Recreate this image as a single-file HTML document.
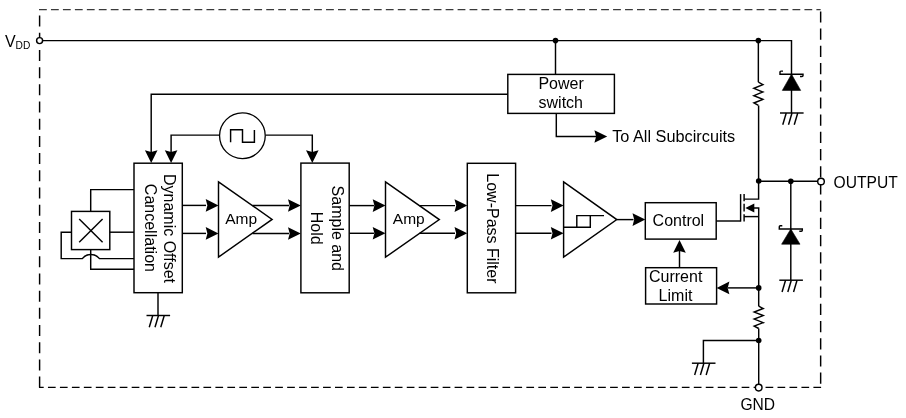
<!DOCTYPE html>
<html><head><meta charset="utf-8"><style>
html,body{margin:0;padding:0;background:#fff;width:906px;height:418px;overflow:hidden}
svg{display:block;will-change:transform}
text{font-family:"Liberation Sans",sans-serif;fill:#000;stroke:none}
</style></head><body>
<svg width="906" height="418" viewBox="0 0 906 418" stroke="#000" fill="none" stroke-linecap="butt">
<path d="M39.00,9.6 H46.80 M50.96,9.6 H58.76 M62.92,9.6 H70.72 M74.88,9.6 H82.68 M86.84,9.6 H94.64 M98.80,9.6 H106.60 M110.76,9.6 H118.56 M122.72,9.6 H130.52 M134.68,9.6 H142.48 M146.64,9.6 H154.44 M158.60,9.6 H166.40 M170.56,9.6 H178.36 M182.52,9.6 H190.32 M194.48,9.6 H202.28 M206.44,9.6 H214.24 M218.40,9.6 H226.20 M230.36,9.6 H238.16 M242.32,9.6 H250.12 M254.28,9.6 H262.08 M266.24,9.6 H274.04 M278.20,9.6 H286.00 M290.16,9.6 H297.96 M302.12,9.6 H309.92 M314.08,9.6 H321.88 M326.04,9.6 H333.84 M338.00,9.6 H345.80 M349.96,9.6 H357.76 M361.92,9.6 H369.72 M373.88,9.6 H381.68 M385.84,9.6 H393.64 M397.80,9.6 H405.60 M409.76,9.6 H417.56 M421.72,9.6 H429.52 M433.68,9.6 H441.48 M445.64,9.6 H453.44 M457.60,9.6 H465.40 M469.56,9.6 H477.36 M481.52,9.6 H489.32 M493.48,9.6 H501.28 M505.44,9.6 H513.24 M517.40,9.6 H525.20 M529.36,9.6 H537.16 M541.32,9.6 H549.12 M553.28,9.6 H561.08 M565.24,9.6 H573.04 M577.20,9.6 H585.00 M589.16,9.6 H596.96 M601.12,9.6 H608.92 M613.08,9.6 H620.88 M625.04,9.6 H632.84 M637.00,9.6 H644.80 M648.96,9.6 H656.76 M660.92,9.6 H668.72 M672.88,9.6 H680.68 M684.84,9.6 H692.64 M696.80,9.6 H704.60 M708.76,9.6 H716.56 M720.72,9.6 H728.52 M732.68,9.6 H740.48 M744.64,9.6 H752.44 M756.60,9.6 H764.40 M768.56,9.6 H776.36 M780.52,9.6 H788.32 M792.48,9.6 H800.28 M804.44,9.6 H812.24 M816.40,9.6 H820.65 " stroke="#3a3a3a" stroke-width="1.4"/>
<path d="M39.00,387.35 H43.70 M47.96,387.35 H55.66 M59.92,387.35 H67.62 M71.88,387.35 H79.58 M83.84,387.35 H91.54 M95.80,387.35 H103.50 M107.76,387.35 H115.46 M119.72,387.35 H127.42 M131.68,387.35 H139.38 M143.64,387.35 H151.34 M155.60,387.35 H163.30 M167.56,387.35 H175.26 M179.52,387.35 H187.22 M191.48,387.35 H199.18 M203.44,387.35 H211.14 M215.40,387.35 H223.10 M227.36,387.35 H235.06 M239.32,387.35 H247.02 M251.28,387.35 H258.98 M263.24,387.35 H270.94 M275.20,387.35 H282.90 M287.16,387.35 H294.86 M299.12,387.35 H306.82 M311.08,387.35 H318.78 M323.04,387.35 H330.74 M335.00,387.35 H342.70 M346.96,387.35 H354.66 M358.92,387.35 H366.62 M370.88,387.35 H378.58 M382.84,387.35 H390.54 M394.80,387.35 H402.50 M406.76,387.35 H414.46 M418.72,387.35 H426.42 M430.68,387.35 H438.38 M442.64,387.35 H450.34 M454.60,387.35 H462.30 M466.56,387.35 H474.26 M478.52,387.35 H486.22 M490.48,387.35 H498.18 M502.44,387.35 H510.14 M514.40,387.35 H522.10 M526.36,387.35 H534.06 M538.32,387.35 H546.02 M550.28,387.35 H557.98 M562.24,387.35 H569.94 M574.20,387.35 H581.90 M586.16,387.35 H593.86 M598.12,387.35 H605.82 M610.08,387.35 H617.78 M622.04,387.35 H629.74 M634.00,387.35 H641.70 M645.96,387.35 H653.66 M657.92,387.35 H665.62 M669.88,387.35 H677.58 M681.84,387.35 H689.54 M693.80,387.35 H701.50 M705.76,387.35 H713.46 M717.72,387.35 H725.42 M729.68,387.35 H737.38 M741.64,387.35 H749.34 M753.60,387.35 H761.30 M765.56,387.35 H773.26 M777.52,387.35 H785.22 M789.48,387.35 H797.18 M801.44,387.35 H809.14 M813.40,387.35 H821.10 " stroke="#000" stroke-width="1.45"/>
<path d="M39.6,15.60 V26.60 M39.6,32.79 V43.79 M39.6,49.98 V60.98 M39.6,67.17 V78.17 M39.6,84.36 V95.36 M39.6,101.55 V112.55 M39.6,118.74 V129.74 M39.6,135.93 V146.93 M39.6,153.12 V164.12 M39.6,170.31 V181.31 M39.6,187.50 V198.50 M39.6,204.69 V215.69 M39.6,221.88 V232.88 M39.6,239.07 V250.07 M39.6,256.26 V267.26 M39.6,273.45 V284.45 M39.6,290.64 V301.64 M39.6,307.83 V318.83 M39.6,325.02 V336.02 M39.6,342.21 V353.21 M39.6,359.40 V370.40 M39.6,376.59 V387.59 " stroke-width="1.45" fill="none"/>
<path d="M820.65,11.40 V22.60 M820.65,28.60 V39.80 M820.65,45.80 V57.00 M820.65,63.00 V74.20 M820.65,80.20 V91.40 M820.65,97.40 V108.60 M820.65,114.60 V125.80 M820.65,131.80 V143.00 M820.65,149.00 V160.20 M820.65,166.20 V177.40 M820.65,183.40 V194.60 M820.65,200.60 V211.80 M820.65,217.80 V229.00 M820.65,235.00 V246.20 M820.65,252.20 V263.40 M820.65,269.40 V280.60 M820.65,286.60 V297.80 M820.65,303.80 V315.00 M820.65,321.00 V332.20 M820.65,338.20 V349.40 M820.65,355.40 V366.60 M820.65,372.60 V383.80 " stroke-width="1.45" fill="none"/>
<path d="M42.6,40.6 H791.5 V74.3" stroke-width="1.45" fill="none"/>
<circle cx="555.5" cy="40.6" r="2.8" fill="#000" stroke="none"/>
<circle cx="758.35" cy="40.6" r="2.8" fill="#000" stroke="none"/>
<circle cx="39.6" cy="40.6" r="3.0" fill="#fff" stroke-width="1.45"/>
<text x="5" y="46.5" font-size="16" text-anchor="start" >V</text>
<text x="15.6" y="48.7" font-size="10.2" text-anchor="start" >DD</text>
<path d="M555.5,40.6 L555.5,74.4" stroke-width="1.45"/>
<rect x="507.8" y="74.4" width="106.60" height="39.00" stroke-width="1.45" fill="white"/>
<text x="561.1" y="89.0" font-size="16" text-anchor="middle" >Power</text>
<text x="560.8" y="107.8" font-size="16" text-anchor="middle" >switch</text>
<path d="M507.8,94.3 H151.2 V152" stroke-width="1.45" fill="none"/>
<path d="M151.20,163.00 L144.90,150.20 L151.20,151.90 L157.50,150.20 Z" fill="#000" stroke="none"/>
<path d="M556.3,113.4 V136.5 H596" stroke-width="1.45" fill="none"/>
<path d="M607.20,136.50 L594.40,130.20 L596.10,136.50 L594.40,142.80 Z" fill="#000" stroke="none"/>
<text x="612.2" y="141.9" font-size="16.3" text-anchor="start" >To All Subcircuits</text>
<circle cx="242.4" cy="135.75" r="22.85" fill="none" stroke-width="1.3"/>
<path d="M219.3,135.1 H171.1 V152" stroke-width="1.45" fill="none"/>
<path d="M171.10,163.00 L164.80,150.20 L171.10,151.90 L177.40,150.20 Z" fill="#000" stroke="none"/>
<path d="M265.5,135.1 H312.3 V152" stroke-width="1.45" fill="none"/>
<path d="M312.30,163.00 L306.00,150.20 L312.30,151.90 L318.60,150.20 Z" fill="#000" stroke="none"/>
<path d="M230.6,142.2 V129.7 H242.5 V142.2 H254.4 V130.1" stroke-width="1.45" fill="none"/>
<rect x="134.0" y="163.2" width="48.30" height="129.50" stroke-width="1.45" fill="white"/>
<text transform="translate(163.6,228.5) rotate(90)" x="0" y="0" font-size="16" text-anchor="middle">Dynamic Offset</text>
<text transform="translate(145.2,227.9) rotate(90)" x="0" y="0" font-size="16" text-anchor="middle">Cancellation</text>
<path d="M158,292.7 L158,315.5" stroke-width="1.45"/>
<path d="M146.5,315.5 L170.10000000000002,315.5" stroke-width="1.45"/>
<path d="M152.75,315.5 L149.25,327.3" stroke-width="1.45"/>
<path d="M158.5,315.5 L155.0,327.3" stroke-width="1.45"/>
<path d="M164.25,315.5 L160.75,327.3" stroke-width="1.45"/>
<rect x="71.5" y="211.4" width="38.30" height="38.20" stroke-width="1.45" fill="white"/>
<path d="M79.2,219 L102.6,242.2" stroke-width="1.45"/>
<path d="M102.6,219 L79.2,242.2" stroke-width="1.45"/>
<path d="M90.7,211.4 V189.6 H134" stroke-width="1.45" fill="none"/>
<path d="M109.8,232.2 H134" stroke-width="1.45" fill="none"/>
<path d="M71.5,232.2 H61.2 V258.6 H82.3 C86.5,253.0 95.0,253.0 99.5,258.6 H134" stroke-width="1.45" fill="none"/>
<path d="M90.7,249.6 V269.2 H134" stroke-width="1.45" fill="none"/>
<path d="M218.5,181.8 L272.1,219.4 L218.5,257.1 Z" stroke-width="1.45" fill="none"/>
<text x="225.2" y="223.7" font-size="15.5" text-anchor="start" >Amp</text>
<path d="M182.3,205.4 L206,205.4" stroke-width="1.45"/>
<path d="M218.50,205.40 L205.70,199.10 L207.40,205.40 L205.70,211.70 Z" fill="#000" stroke="none"/>
<path d="M182.3,233.4 L206,233.4" stroke-width="1.45"/>
<path d="M218.50,233.40 L205.70,227.10 L207.40,233.40 L205.70,239.70 Z" fill="#000" stroke="none"/>
<path d="M252.5,205.5 L289,205.5" stroke-width="1.45"/>
<path d="M300.80,205.50 L288.00,199.20 L289.70,205.50 L288.00,211.80 Z" fill="#000" stroke="none"/>
<path d="M252.5,233.5 L289,233.5" stroke-width="1.45"/>
<path d="M300.80,233.50 L288.00,227.20 L289.70,233.50 L288.00,239.80 Z" fill="#000" stroke="none"/>
<rect x="300.9" y="163.1" width="48.30" height="129.70" stroke-width="1.45" fill="white"/>
<text transform="translate(331.5,228.3) rotate(90)" x="0" y="0" font-size="16" text-anchor="middle">Sample and</text>
<text transform="translate(310.8,228.2) rotate(90)" x="0" y="0" font-size="16" text-anchor="middle">Hold</text>
<path d="M349.4,205.6 L374,205.6" stroke-width="1.45"/>
<path d="M385.50,205.60 L372.70,199.30 L374.40,205.60 L372.70,211.90 Z" fill="#000" stroke="none"/>
<path d="M349.4,233.3 L374,233.3" stroke-width="1.45"/>
<path d="M385.50,233.30 L372.70,227.00 L374.40,233.30 L372.70,239.60 Z" fill="#000" stroke="none"/>
<path d="M385.5,181.9 L439.3,219.6 L385.5,257.2 Z" stroke-width="1.45" fill="none"/>
<text x="392.8" y="223.7" font-size="15.5" text-anchor="start" >Amp</text>
<path d="M419.5,205.6 L455,205.6" stroke-width="1.45"/>
<path d="M467.30,205.60 L454.50,199.30 L456.20,205.60 L454.50,211.90 Z" fill="#000" stroke="none"/>
<path d="M419.5,233.3 L455,233.3" stroke-width="1.45"/>
<path d="M467.30,233.30 L454.50,227.00 L456.20,233.30 L454.50,239.60 Z" fill="#000" stroke="none"/>
<rect x="467.3" y="163.3" width="48.30" height="129.50" stroke-width="1.45" fill="white"/>
<text transform="translate(486.8,228.4) rotate(90)" x="0" y="0" font-size="16" text-anchor="middle">Low-Pass Filter</text>
<path d="M515.6,205.6 L551.5,205.6" stroke-width="1.45"/>
<path d="M563.60,205.60 L550.80,199.30 L552.50,205.60 L550.80,211.90 Z" fill="#000" stroke="none"/>
<path d="M515.6,233.2 L551.5,233.2" stroke-width="1.45"/>
<path d="M563.60,233.20 L550.80,226.90 L552.50,233.20 L550.80,239.50 Z" fill="#000" stroke="none"/>
<path d="M563.6,181.8 L616.8,219.6 L563.6,257.1 Z" stroke-width="1.45" fill="none"/>
<path d="M563.8,227.2 H590.3 V215.6 M576.8,227.2 V215.6 H604" stroke-width="1.45" fill="none"/>
<path d="M616.8,219.6 L633.5,219.6" stroke-width="1.45"/>
<path d="M645.30,219.60 L632.50,213.30 L634.20,219.60 L632.50,225.90 Z" fill="#000" stroke="none"/>
<rect x="645.3" y="202.7" width="70.90" height="36.40" stroke-width="1.45" fill="white"/>
<text x="652.6" y="225.8" font-size="16" text-anchor="start" >Control</text>
<path d="M716.2,221 L740.6,221" stroke-width="1.45"/>
<rect x="645.6" y="267.7" width="71.00" height="36.30" stroke-width="1.45" fill="white"/>
<text x="649.0" y="281.7" font-size="16" text-anchor="start" >Current</text>
<text x="658.6" y="300.8" font-size="16" text-anchor="start" >Limit</text>
<path d="M679.5,267.7 L679.5,251" stroke-width="1.45"/>
<path d="M679.50,239.90 L673.20,252.70 L679.50,251.00 L685.80,252.70 Z" fill="#000" stroke="none"/>
<path d="M758.7,287.9 L728,287.9" stroke-width="1.45"/>
<path d="M716.60,287.90 L729.40,281.60 L727.70,287.90 L729.40,294.20 Z" fill="#000" stroke="none"/>
<path d="M740.6,194.1 L740.6,221.6" stroke-width="1.45"/>
<path d="M744.1,194.1 L744.1,201.3" stroke-width="1.45"/>
<path d="M744.1,203.7 L744.1,211.6" stroke-width="1.45"/>
<path d="M744.1,214.2 L744.1,221.4" stroke-width="1.45"/>
<path d="M744.1,199.1 H758.6 V105.4" stroke-width="1.45" fill="none"/>
<path d="M752,208 H758.7 V306.2" stroke-width="1.45" fill="none"/>
<path d="M745.3,208 L754.3,203.5 L754.3,212.5 Z" fill="#000" stroke="none"/>
<path d="M744.1,216.6 L758.7,216.6" stroke-width="1.45"/>
<circle cx="758.7" cy="181.0" r="2.8" fill="#000" stroke="none"/>
<circle cx="758.7" cy="287.9" r="2.8" fill="#000" stroke="none"/>
<circle cx="758.7" cy="340.5" r="2.8" fill="#000" stroke="none"/>
<path d="M758.35,40.6 L758.35,82.2" stroke-width="1.45"/>
<path d="M758.4,82.2 L762.9,84.63600000000001 L753.9,88.30160000000001 L762.9,91.9672 L753.9,95.6328 L762.9,99.2984 L753.9,102.964 L758.4,105.4" stroke-width="1.45" fill="none"/>
<path d="M758.7,306.2 L763.2,308.5415 L754.2,312.06489999999997 L763.2,315.5883 L754.2,319.1117 L763.2,322.6351 L754.2,326.1585 L758.7,328.5" stroke-width="1.45" fill="none"/>
<path d="M758.7,328.5 L758.7,384.3" stroke-width="1.45"/>
<path d="M758.6,181.3 L817.7,181.3" stroke-width="1.45"/>
<circle cx="790.8" cy="181.3" r="2.8" fill="#000" stroke="none"/>
<circle cx="821" cy="181.5" r="3.3" fill="#fff" stroke-width="1.45"/>
<text x="833.6" y="187.8" font-size="15.6" text-anchor="start" >OUTPUT</text>
<path d="M790.8,181.3 L790.8,280.2" stroke-width="1.45"/>
<path d="M782.3,225.8 L780.3,225.8 Q779.3,225.8 779.3,226.8 L779.3,229.0 L802.3,229.0 L802.3,230.2 Q802.3,231.2 801.3,231.2 L799.3,231.2" stroke-width="1.45" fill="none"/>
<path d="M790.8,229.0 L781.5999999999999,244.2 L800.0,244.2 Z" fill="#000" stroke="#000" stroke-width="0.6"/>
<path d="M779.3,280.2 L802.8999999999999,280.2" stroke-width="1.45"/>
<path d="M785.55,280.2 L782.05,292.0" stroke-width="1.45"/>
<path d="M791.3,280.2 L787.8,292.0" stroke-width="1.45"/>
<path d="M797.05,280.2 L793.55,292.0" stroke-width="1.45"/>
<path d="M783.0,71.1 L781.0,71.1 Q780.0,71.1 780.0,72.1 L780.0,74.3 L803.0,74.3 L803.0,75.5 Q803.0,76.5 802.0,76.5 L800.0,76.5" stroke-width="1.45" fill="none"/>
<path d="M791.5,74.3 L782.3,90.4 L800.7,90.4 Z" fill="#000" stroke="#000" stroke-width="0.6"/>
<path d="M791.5,74.3 L791.5,113.0" stroke-width="1.45"/>
<path d="M780.0,113.0 L803.5999999999999,113.0" stroke-width="1.45"/>
<path d="M786.25,113.0 L782.75,124.8" stroke-width="1.45"/>
<path d="M792.0,113.0 L788.5,124.8" stroke-width="1.45"/>
<path d="M797.75,113.0 L794.25,124.8" stroke-width="1.45"/>
<path d="M758.7,340.5 H703.4 V363.2" stroke-width="1.45" fill="none"/>
<path d="M691.9,363.2 L715.4999999999999,363.2" stroke-width="1.45"/>
<path d="M698.15,363.2 L694.65,375.0" stroke-width="1.45"/>
<path d="M703.9,363.2 L700.4,375.0" stroke-width="1.45"/>
<path d="M709.65,363.2 L706.15,375.0" stroke-width="1.45"/>
<circle cx="758.7" cy="387.6" r="3.3" fill="#fff" stroke-width="1.45"/>
<text x="740.4" y="409.8" font-size="15.6" text-anchor="start" >GND</text>
</svg>
</body></html>
